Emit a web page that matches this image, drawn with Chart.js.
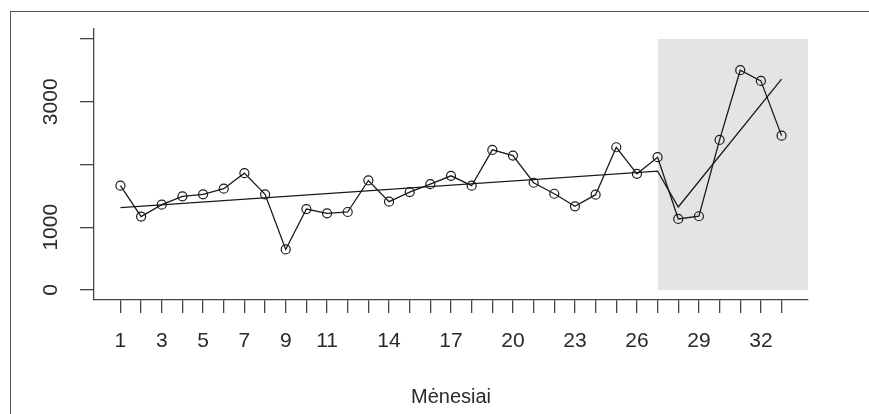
<!DOCTYPE html>
<html>
<head>
<meta charset="utf-8">
<script src="https://cdn.jsdelivr.net/npm/chart.js@4/dist/chart.umd.min.js"></script>
<style>
  body { margin: 0; background: #fff; }
  #wrap { width: 869px; height: 414px; }
</style>
</head>
<body>
<div id="wrap"><canvas id="myChart" width="869" height="414"></canvas></div>
<script>
// menesiai (x) ir reiksmes (y)
var months = [1, 2, 3, 4, 5, 6, 7, 8, 9, 10, 11, 12, 13, 14, 15, 16, 17, 18, 19, 20,
              21, 22, 23, 24, 25, 26, 27, 28, 29, 30, 31, 32, 33];
var values = [1662, 1170, 1360, 1492, 1524, 1614, 1862, 1524, 646, 1290, 1222, 1243, 1746,
              1408, 1560, 1687, 1820, 1662, 2233, 2143, 1709, 1534, 1333, 1519, 2275, 1852,
              2116, 1132, 1175, 2392, 3503, 3333, 2460];

// trendo linija (du gabalai)
var trendX = [1, 27, 28, 33];
var trendY = [1312, 1894, 1322, 3360];

// pilkas langas
var shadeX = [27, 34.28];
var shadeTop = 4000;

var xLabels = [1, 3, 5, 7, 9, 11, 14, 17, 20, 23, 26, 29, 32];
var yTicks = [0, 1000, 2000, 3000, 4000];
var yLabels = [0, 1000, 3000];

const axisColor = '#444';
const fontFam = '"Liberation Sans", Arial, sans-serif';

const framePlugin = {
    id: 'frame',
    beforeDraw: function (chart) {
        var c = chart.ctx;
        c.save();
        c.strokeStyle = '#555';
        c.lineWidth = 1;
        c.strokeRect(10.5, 11.5, 900, 500);
        c.restore();
    },
    afterDraw: function (chart) {
        var c = chart.ctx;
        var ys = chart.scales.y;
        c.save();
        c.fillStyle = '#2a2a2a';
        c.font = '21px ' + fontFam;
        c.textAlign = 'center';
        c.textBaseline = 'middle';
        yLabels.forEach(function (v) {
            c.save();
            c.translate(51, ys.getPixelForValue(v));
            c.rotate(-Math.PI / 2);
            c.fillText(String(v), 0, 0);
            c.restore();
        });
        c.restore();
    }
};

var ctx = document.getElementById('myChart');

var myChart = new Chart(ctx, {
    type: 'line',
    data: {
        datasets: [{
            label: 'values',
            data: months.map(function (m, i) { return { x: m, y: values[i] }; }),
            borderColor: '#1a1a1a',
            borderWidth: 1.3,
            pointRadius: 4.5,
            pointBorderWidth: 1.2,
            pointBorderColor: '#1a1a1a',
            pointBackgroundColor: 'rgba(0,0,0,0)',
            fill: false,
            order: 1
        },
        {
            label: 'trend',
            data: trendX.map(function (m, i) { return { x: m, y: trendY[i] }; }),
            borderColor: '#1a1a1a',
            borderWidth: 1.3,
            pointRadius: 0,
            fill: false,
            order: 2
        },
        {
            label: 'shade',
            data: shadeX.map(function (m) { return { x: m, y: shadeTop }; }),
            borderWidth: 0,
            borderColor: 'rgba(0,0,0,0)',
            backgroundColor: '#e3e4e6',
            pointRadius: 0,
            fill: 'origin',
            order: 10
        }]
    },
    options: {
        responsive: false,
        animation: false,
        devicePixelRatio: 1,
        layout: { padding: { top: 29, right: 61, left: 0, bottom: 0 } },
        plugins: {
            legend: { display: false },
            tooltip: { enabled: false }
        },
        scales: {
            x: {
                type: 'linear',
                min: -0.28,
                max: 34.28,
                afterBuildTicks: function (scale) {
                    scale.ticks = months.map(function (v) { return { value: v }; });
                },
                afterFit: function (scale) { scale.height = 114; },
                grid: {
                    drawOnChartArea: false,
                    drawTicks: true,
                    tickLength: 13,
                    color: axisColor,
                    tickColor: axisColor,
                    lineWidth: 1.3
                },
                border: { display: true, color: axisColor, width: 1.3 },
                ticks: {
                    autoSkip: false,
                    maxRotation: 0,
                    minRotation: 0,
                    padding: 16,
                    color: '#2a2a2a',
                    font: { family: fontFam, size: 21 },
                    callback: function (v) { return xLabels.indexOf(v) >= 0 ? String(v) : ''; }
                },
                title: {
                    display: true,
                    text: 'Mėnesiai',
                    color: '#2a2a2a',
                    font: { family: fontFam, size: 20 },
                    padding: { top: 0, bottom: 5 }
                }
            },
            y: {
                type: 'linear',
                min: -160,
                max: 4160,
                afterBuildTicks: function (scale) {
                    scale.ticks = yTicks.map(function (v) { return { value: v }; });
                },
                afterFit: function (scale) { scale.width = 94; },
                grid: {
                    drawOnChartArea: false,
                    drawTicks: true,
                    tickLength: 14,
                    color: axisColor,
                    tickColor: axisColor,
                    lineWidth: 1.3
                },
                border: { display: true, color: axisColor, width: 1.3 },
                ticks: {
                    callback: function () { return ''; }
                }
            }
        }
    },
    plugins: [framePlugin]
});
</script>
</body>
</html>
